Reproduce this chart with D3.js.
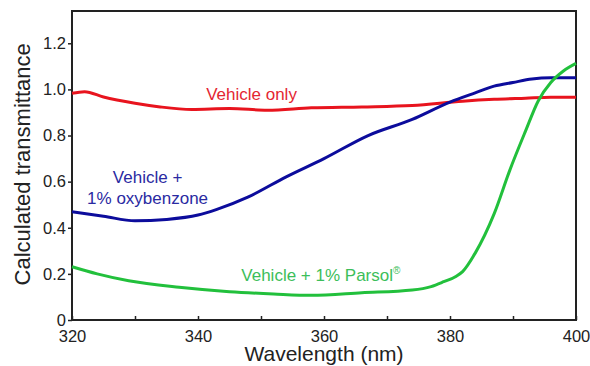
<!DOCTYPE html>
<html>
<head>
<meta charset="utf-8">
<script src="https://cdn.jsdelivr.net/npm/d3@7"></script>
<style>
  html, body { margin: 0; padding: 0; background: #fff; }
  svg { display: block; font-family: "Liberation Sans", Arial, sans-serif; }
</style>
</head>
<body>
<svg id="chart"></svg>
<script>
// values
const vehicleX = [320, 322, 325, 330, 334, 339, 345, 351, 358, 366, 374, 382, 387, 392, 396, 400];
const vehicleY = [0.983, 0.99, 0.967, 0.94, 0.924, 0.913, 0.917, 0.91, 0.92, 0.924, 0.93, 0.949, 0.957, 0.962, 0.966, 0.966];

const oxyX = [320, 325, 330, 335, 340, 343, 348, 354, 360, 367, 374, 380, 384, 387, 390, 393, 396, 400];
const oxyY = [0.469, 0.45, 0.43, 0.436, 0.455, 0.48, 0.534, 0.621, 0.70, 0.80, 0.87, 0.945, 0.985, 1.014, 1.03, 1.045, 1.05, 1.05];

const parsolX = [320, 324, 329, 337, 345, 352, 358, 366, 374, 377, 379, 381, 382, 384, 387, 389.5, 392, 394, 396, 398, 400];
const parsolY = [0.231, 0.20, 0.17, 0.142, 0.123, 0.113, 0.107, 0.118, 0.13, 0.145, 0.166, 0.19, 0.21, 0.29, 0.46, 0.65, 0.82, 0.95, 1.03, 1.08, 1.113];

const xTicks = [320, 330, 340, 350, 360, 370, 380, 390, 400];
const xLabels = [320, 340, 360, 380, 400];
const yTicks = [0, 0.2, 0.4, 0.6, 0.8, 1.0, 1.2];

const width = 590, height = 366;
const margin = { top: 11, right: 14, bottom: 46, left: 72 };

const svg = d3.select("#chart").attr("width", width).attr("height", height);
const plotW = width - margin.left - margin.right;
const plotH = height - margin.top - margin.bottom;

const g = svg.append("g").attr("transform", `translate(${margin.left},${margin.top})`);

const x = d3.scaleLinear().domain([320, 400]).range([0, plotW]);
const y = d3.scaleLinear().domain([0, 1.34]).range([plotH, 0]);

// y axis
const yAxis = g.append("g")
  .call(d3.axisLeft(y).tickValues(yTicks).tickSize(4).tickPadding(2)
    .tickFormat(d => d === 0 ? "0" : d.toFixed(1)));
yAxis.selectAll("text").attr("font-size", 16.5).attr("fill", "#222");
yAxis.selectAll("line").attr("stroke", "#222").attr("stroke-width", 1.5);
yAxis.select(".domain").remove();

// x axis, ticks pointing inward
const xAxis = g.append("g")
  .attr("transform", `translate(0,${plotH})`)
  .call(d3.axisBottom(x).tickValues(xTicks).tickSize(-4).tickPadding(10)
    .tickFormat(d => xLabels.includes(d) ? d : ""));
xAxis.selectAll("text").attr("font-size", 16.5).attr("fill", "#222").attr("dy", "0.71em");
xAxis.selectAll("line").attr("stroke", "#222").attr("stroke-width", 1.5);
xAxis.select(".domain").remove();

// frame
g.append("rect")
  .attr("x", 0).attr("y", 0)
  .attr("width", plotW).attr("height", plotH)
  .attr("fill", "none").attr("stroke", "#222").attr("stroke-width", 2);

const line = d3.line()
  .x(d => x(d[0]))
  .y(d => y(d[1]))
  .curve(d3.curveMonotoneX);

const series = [
  { xs: vehicleX, ys: vehicleY, color: "#e8141e" },
  { xs: oxyX, ys: oxyY, color: "#0c0c9c" },
  { xs: parsolX, ys: parsolY, color: "#22c03c" }
];

series.forEach(s => {
  g.append("path")
    .datum(s.xs.map((v, i) => [v, s.ys[i]]))
    .attr("fill", "none")
    .attr("stroke", s.color)
    .attr("stroke-width", 3)
    .attr("stroke-linejoin", "round")
    .attr("d", line);
});

// labels
g.append("text")
  .attr("x", x(348.5)).attr("y", y(0.955))
  .attr("text-anchor", "middle").attr("font-size", 17)
  .attr("fill", "#e42632")
  .text("Vehicle only");

const oxyLabel = g.append("text")
  .attr("text-anchor", "middle").attr("font-size", 17)
  .attr("fill", "#2a2aa2");
oxyLabel.append("tspan").attr("x", x(332)).attr("y", y(0.595)).text("Vehicle +");
oxyLabel.append("tspan").attr("x", x(332)).attr("y", y(0.505)).text("1% oxybenzone");

const parsolLabel = g.append("text")
  .attr("x", x(359.5)).attr("y", y(0.17))
  .attr("text-anchor", "middle").attr("font-size", 17)
  .attr("fill", "#3cbe5a");
parsolLabel.append("tspan").text("Vehicle + 1% Parsol");
parsolLabel.append("tspan").attr("font-size", 10).attr("dy", "-0.7em").text("®");

// axis titles
svg.append("text")
  .attr("x", margin.left + plotW / 2).attr("y", 361)
  .attr("text-anchor", "middle").attr("font-size", 21).attr("fill", "#222")
  .text("Wavelength (nm)");

svg.append("text")
  .attr("transform", `translate(30,${margin.top + y(0.675)}) rotate(-90)`)
  .attr("text-anchor", "middle").attr("font-size", 22).attr("fill", "#222")
  .text("Calculated transmittance");
</script>
</body>
</html>
